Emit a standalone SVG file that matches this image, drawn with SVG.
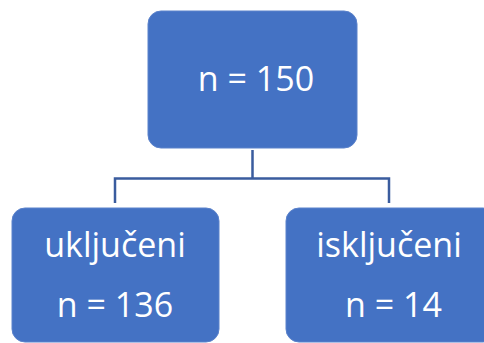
<svg xmlns="http://www.w3.org/2000/svg" width="484" height="343" viewBox="0 0 484 343">
<style>
.box{fill:#4472C4;stroke:#5B82CB;stroke-width:1}
.t{fill:#FFFFFF;font-family:"Open Sans","Noto Sans",sans-serif;font-size:34px;text-anchor:middle}
.c{fill:none;stroke:#3A5C9E;stroke-width:2.5}
</style>
<rect width="484" height="343" fill="#FFFFFF"/>
<g id="connectors">
<path class="c" d="M252.5 150 V178.5 M115 203 V178.5 H389 V203"/>
</g>
<g id="root">
<rect class="box" x="148" y="11" width="209" height="137" rx="13"/>
<text class="t" x="256" y="91">n = 150</text>
</g>
<g id="included">
<rect class="box" x="12" y="208" width="207" height="134" rx="13"/>
<text class="t" x="115" y="257">uključeni</text>
<text class="t" x="115" y="317">n = 136</text>
</g>
<g id="excluded">
<rect class="box" x="286" y="208" width="210" height="134" rx="13"/>
<text class="t" x="389" y="257">isključeni</text>
<text class="t" x="393.5" y="317">n = 14</text>
</g>
</svg>
